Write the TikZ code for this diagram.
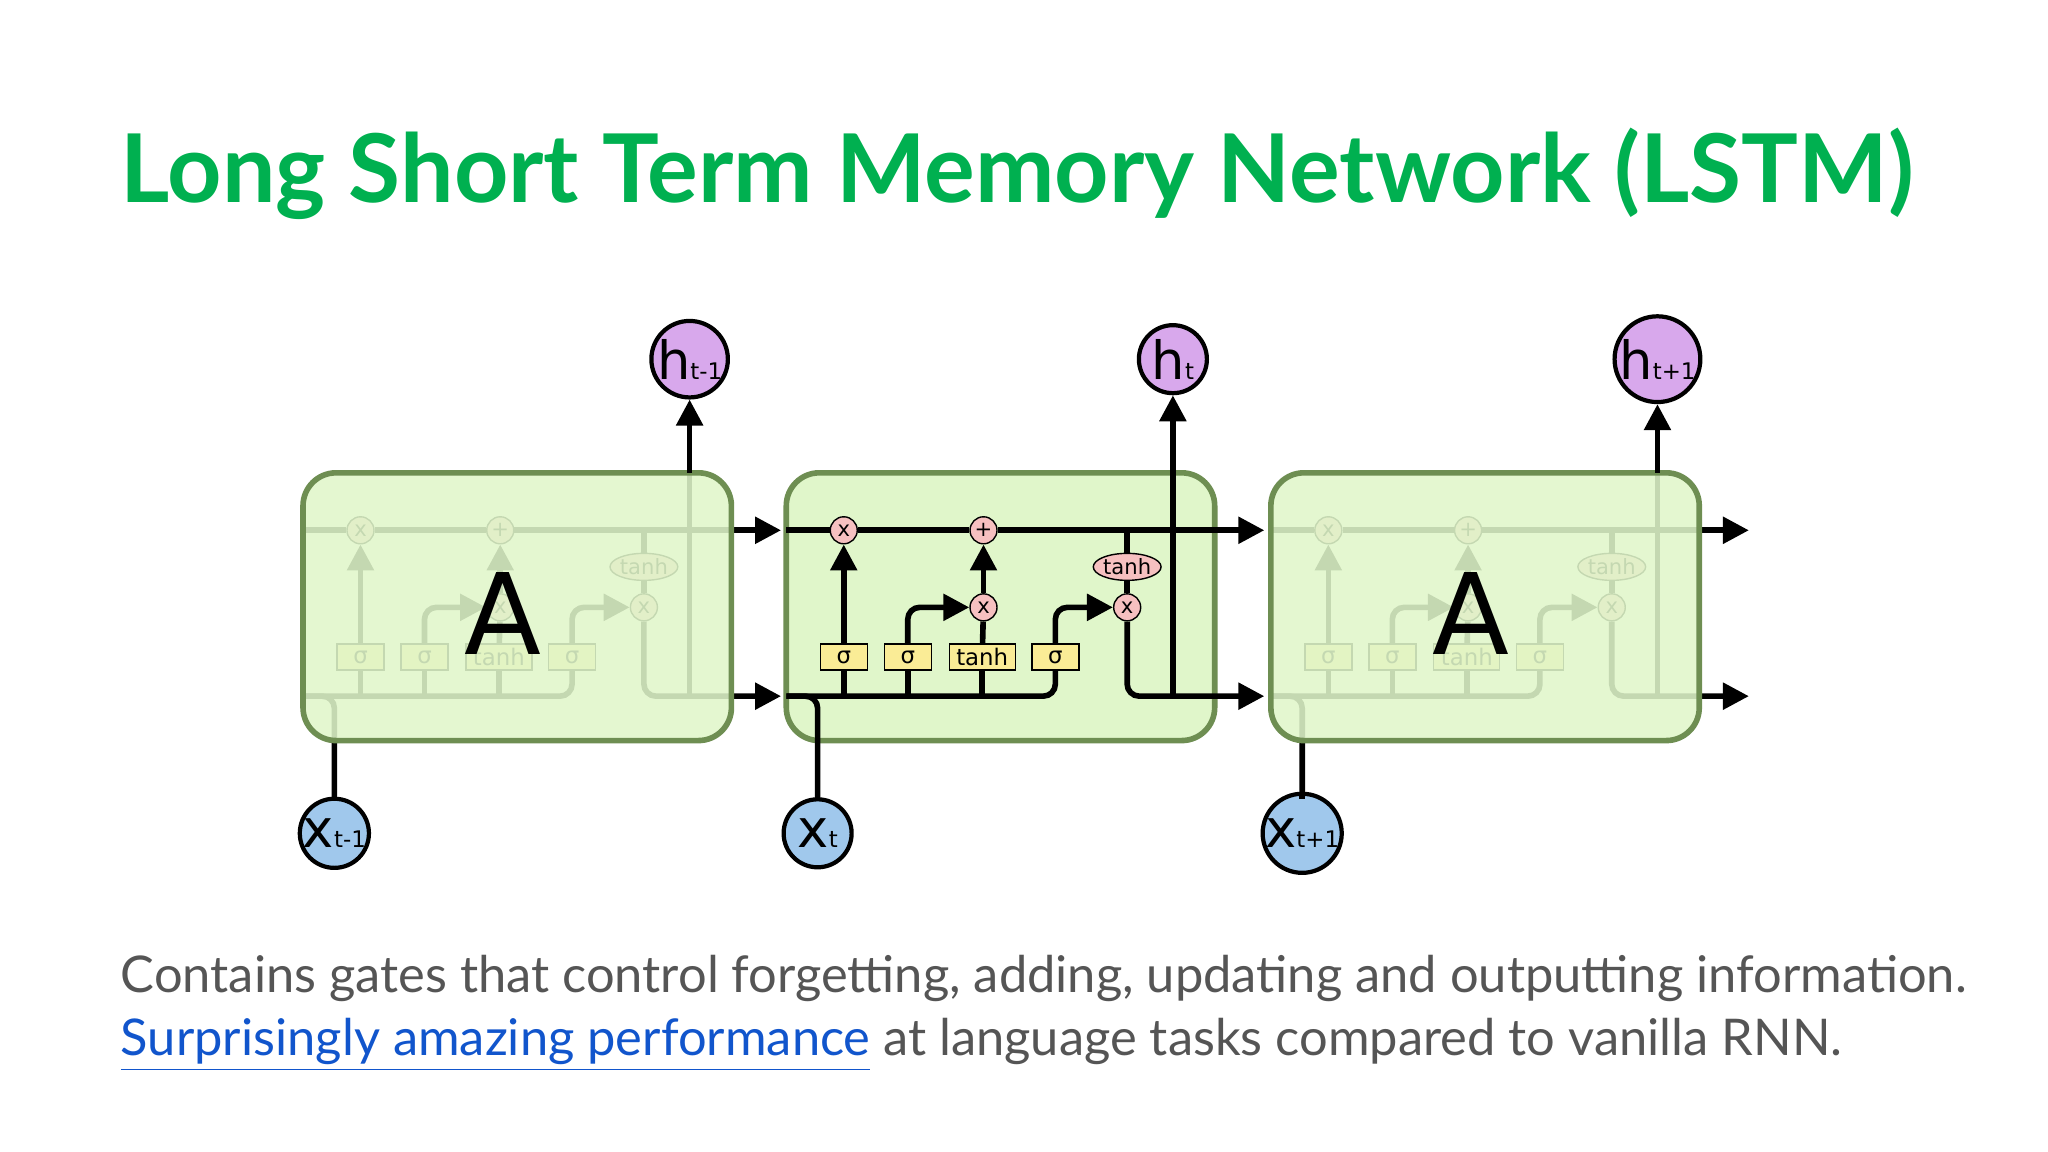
\documentclass[tikz,border=0pt]{standalone}
\usepackage{fontspec}
\setmainfont{Lato}
\setsansfont{DejaVu Sans}
\usetikzlibrary{arrows.meta,positioning,shapes.geometric}
\definecolor{titlegreen}{RGB}{0,176,80}
\definecolor{bodygray}{RGB}{85,85,85}
\definecolor{linkblue}{RGB}{17,85,204}
\definecolor{cellfill}{RGB}{224,246,202}
\definecolor{celldraw}{RGB}{110,142,82}
\definecolor{oppink}{RGB}{246,192,192}
\definecolor{gateyellow}{RGB}{250,236,150}
\definecolor{hpurple}{RGB}{216,168,236}
\definecolor{xblue}{RGB}{160,200,236}

\tikzset{
  cell/.style={draw=celldraw,line width=1.6pt,fill=cellfill,rounded corners=0.33cm},
  op/.style={circle,draw,fill=oppink,inner sep=0pt,minimum size=0.27cm,font=\sffamily\fontsize{6}{6}\selectfont},
  tanhop/.style={ellipse,draw,fill=oppink,inner sep=0pt,minimum width=0.66cm,minimum height=0.27cm,font=\sffamily\fontsize{6}{6}\selectfont},
  gate/.style={draw,fill=gateyellow,inner sep=0pt,minimum width=0.47cm,minimum height=0.26cm,font=\sffamily\fontsize{6.5}{6.5}\selectfont},
  hnode/.style={circle,draw,line width=1.2pt,fill=hpurple,inner sep=0pt,minimum size=0.68cm},
  xnode/.style={circle,draw,line width=1.2pt,fill=xblue,inner sep=0pt,minimum size=0.68cm},
  flow/.style={line width=1.6pt,rounded corners=0.12cm},
  arr/.style={flow,-{Triangle[length=0.26cm,width=0.26cm]}},
}

% one repeating module, #1 name prefix, #2 shift in px
\newcommand{\lstmcell}[2]{%
\begin{scope}[shift={(#2,0)}]
  \node[op] (#1fx) at (646,406) {x};
  \node[op] (#1ad) at (753,406) {+};
  \node[op] (#1ix) at (753,465) {x};
  \node[op] (#1ox) at (863,465) {x};
  \node[tanhop] (#1th) at (863,434) {tanh};
  \node[gate] (#1g1) at (646,503) {σ};
  \node[gate] (#1g2) at (695,503) {σ};
  \node[gate,minimum width=0.66cm] (#1g3) at (752,503) {tanh};
  \node[gate] (#1g4) at (808,503) {σ};
  \coordinate (#1tin) at (602,406);
  \coordinate (#1tout) at (968,406);
  \coordinate (#1bin) at (602,533);
  \coordinate (#1bout) at (968,533);
  \coordinate (#1hb) at (898,533);
  \coordinate (#1ht) at (898,362);
  % cell state
  \draw[arr] (#1tin) -- (#1fx) -- (#1ad) -- (#1tout);
  % hidden state
  \draw[flow] (#1bin) -- (808,533) -- (#1g4);
  \draw[arr] (#1g1) -- (#1fx);
  \draw[flow] (646,533) -- (#1g1);
  \draw[flow] (695,533) -- (#1g2);
  \draw[arr] (#1g2) |- (#1ix);
  \draw[flow] (752,533) -- (#1g3);
  \draw[flow] (#1g3) -- (#1ix);
  \draw[arr] (#1ix) -- (#1ad);
  \draw[arr] (#1g4) |- (#1ox);
  \draw[flow] (863,406) -- (#1th) -- (#1ox);
  \draw[arr] (#1ox) |- (#1bout);
  \draw[flow] (626,612) |- (#1bin);
  \draw[flow] (#1hb) -- (#1ht);
\end{scope}}

\begin{document}
\begin{tikzpicture}[x=0.01306cm,y=-0.01306cm]
  \useasboundingbox (0,0) rectangle (1568,882);

  \node[anchor=base west,inner sep=0pt,text=titlegreen,font=\fontsize{27}{29}\selectfont\bfseries] (title) at (92,155)
    {Long Short Term Memory Network (LSTM)};

  \draw[cell] (602,362) rectangle (930,567);
  \lstmcell{a}{-370}
  \lstmcell{b}{0}
  \lstmcell{c}{371}

  % faded outer cells
  \foreach \dx/\nm in {-370/left,371/right}{
    \fill[cellfill,opacity=0.88,rounded corners=0.33cm] (602+\dx,362) rectangle (930+\dx,567);
    \draw[draw=celldraw,line width=1.6pt,rounded corners=0.33cm] (602+\dx,362) rectangle (930+\dx,567);
    \node[font=\sffamily\fontsize{32}{32}\selectfont] (A\nm) at (385+370+\dx,470) {A};
  }

  % inputs and outputs
  \foreach \i/\dx/\sub in {1/-370/t-1,2/0/t,3/371/t+1}{
    \node[hnode] (h\i) at (898+\dx,275) {{\sffamily\fontsize{15}{15}\selectfont h}{\sffamily\fontsize{6.5}{6.5}\selectfont\sub}};
    \node[xnode] (x\i) at (626+\dx,638) {{\sffamily\fontsize{15}{15}\selectfont x}{\sffamily\fontsize{6.5}{6.5}\selectfont\sub}};
    \coordinate (hb\i) at (898+\dx,362);
    \coordinate (xt\i) at (626+\dx,612);
    \draw[arr] (hb\i) -- (h\i);
    \draw[flow] (x\i) -- (xt\i);
  }

  \node[anchor=base west,inner sep=0pt,text=bodygray,font=\fontsize{14.4}{16}\selectfont] (line1) at (92,760)
    {Contains gates that control forgetting, adding, updating and outputting information.};
  \node[anchor=base west,inner sep=0pt,text=bodygray,font=\fontsize{14.4}{16}\selectfont] (line2) at (92,808)
    {\textcolor{linkblue}{\underline{Surprisingly amazing performance}} at language tasks compared to vanilla RNN.};
\end{tikzpicture}
\end{document}
